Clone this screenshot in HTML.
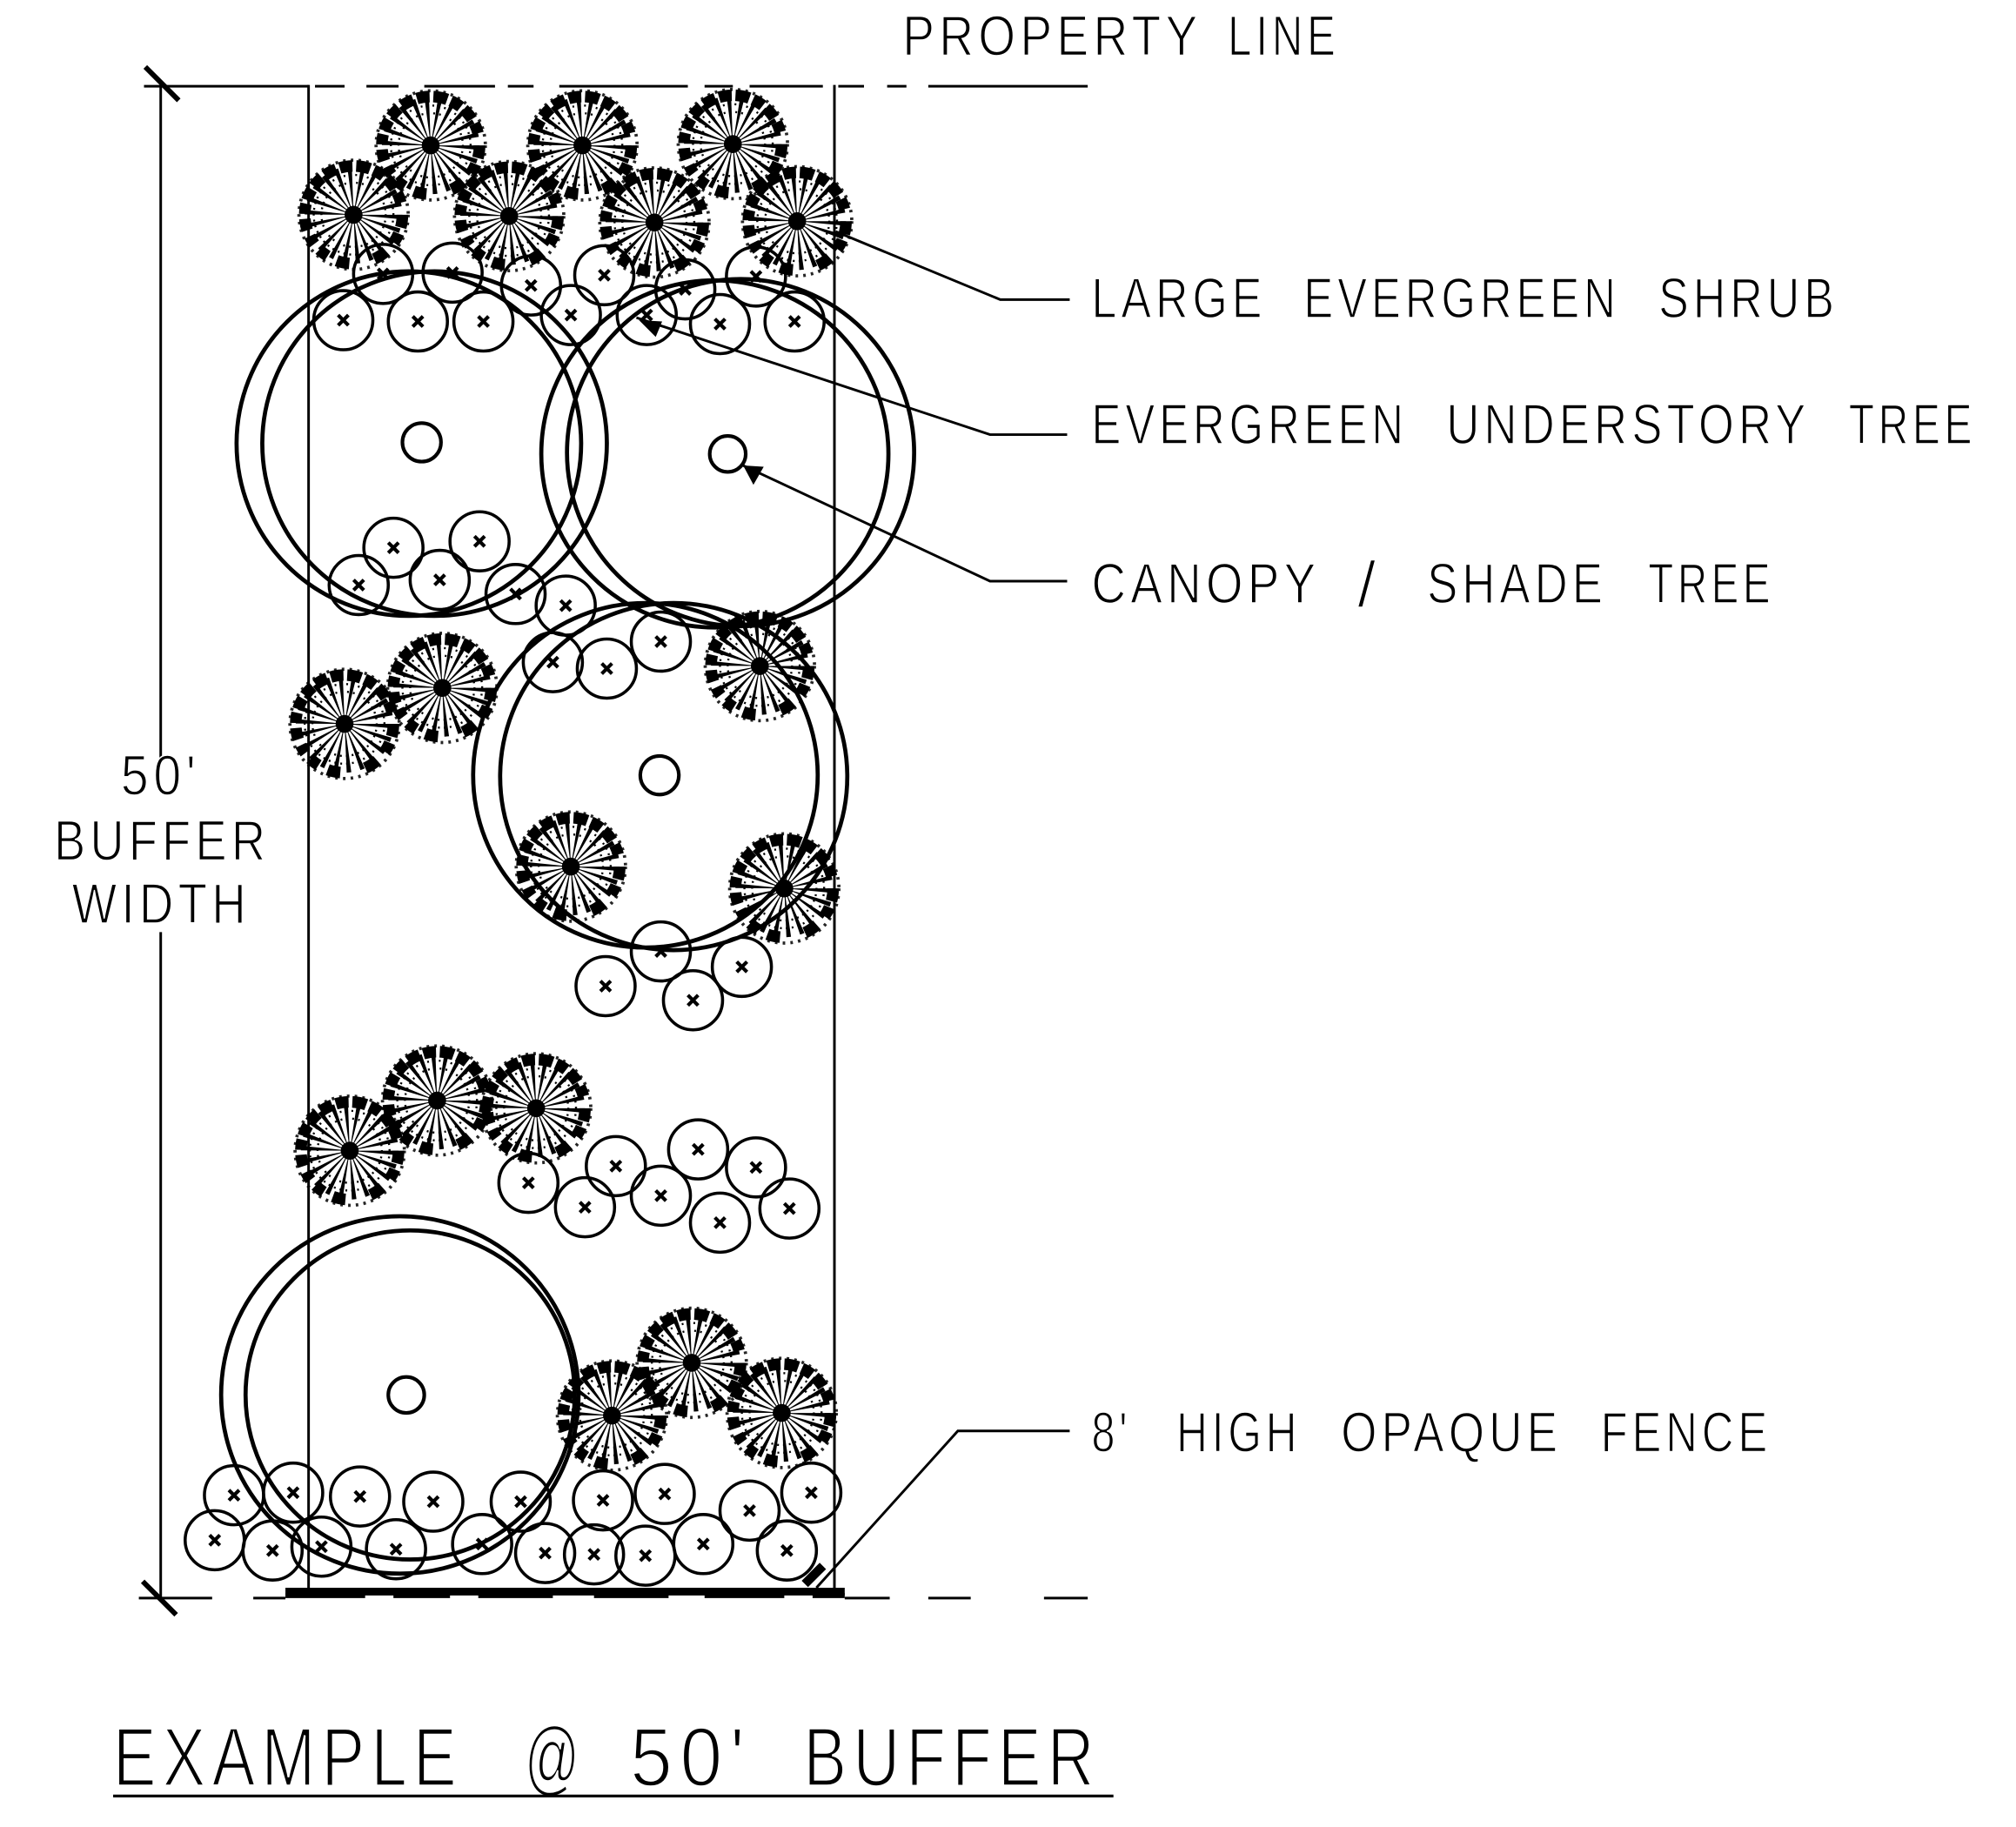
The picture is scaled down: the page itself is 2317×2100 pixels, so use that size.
<!DOCTYPE html>
<html><head><meta charset="utf-8"><title>Example @ 50' Buffer</title>
<style>html,body{margin:0;padding:0;background:#fff}svg{display:block}
text{font-family:"Liberation Sans",sans-serif;fill:#000;stroke:#fff;stroke-width:1;letter-spacing:.1em}</style></head>
<body>
<svg xmlns="http://www.w3.org/2000/svg" width="2317" height="2100" viewBox="0 0 1568 1421">
<defs>
<g id="s" fill="none" stroke="#000">
<circle r="19" stroke-width="38" stroke-dasharray="1.8 3.63"/>
<circle r="25" stroke-width="1.6" stroke-dasharray="1.4 3.2"/>
<circle r="31" stroke-width="1.6" stroke-dasharray="1.4 3.2"/>
<circle r="38" stroke-width="9" stroke-dasharray="10 5 8 9 11 20 10 8 8 6 7 5 9 4 8 3 9 3 9 3 10 3 10 3 11 3 9 3 10 4 8 9.8"/>
<circle r="42.5" stroke-width="2.5" stroke-dasharray="2 4" stroke-opacity=".85"/>
<circle r="7" fill="#000" stroke="none"/>
</g>
<g id="c" fill="none" stroke="#000">
<circle r="23" stroke-width="2.4"/>
<path d="M-4-4L4 4M4-4L-4 4" stroke-width="2.8"/>
</g>
</defs>
<rect width="1568" height="1421" fill="#fff"/>

<g fill="none" stroke="#000">
<path d="M240 66V1240M649 66V1240" stroke-width="2"/>
<path d="M125 66V590M125 725V1243" stroke-width="2"/>
<path d="M113 52L139 78M111 1230L137 1256" stroke-width="4"/>
<path d="M112 67H240" stroke-width="2"/>
<path d="M245 67H268M285 67H310M330 67H385M395 67H415M435 67H535M548 67H570M583 67H640M652 67H672M690 67H705M722 67H846" stroke-width="2"/>
<path d="M108 1243H165M197 1243H222M657 1243H692M722 1243H755M812 1243H846" stroke-width="2"/>
<path d="M222 1238H657" stroke-width="6"/>
<path d="M222 1241H284M306 1241H350M372 1241H430M462 1241H520M548 1241H610M632 1241H657" stroke-width="4"/>
<path d="M650 180L778 233H832M495 247L770 338H830M578 362L770 452H830M635 1235L745 1113H832" stroke-width="2"/>
<path d="M578 362L594 363L586 377Z" fill="#000" stroke="none"/>
<path d="M497 249L515 250L510 262Z" fill="#000" stroke="none"/>
<path d="M626 1232L640 1218" stroke-width="7"/>
<g stroke-width="3.2">
<circle cx="318" cy="345" r="134"/><circle cx="338" cy="345" r="134"/>
<circle cx="556" cy="353" r="135"/><circle cx="576" cy="352" r="135"/>
<circle cx="502" cy="603" r="134"/><circle cx="524" cy="604" r="135"/>
<circle cx="311" cy="1085" r="139"/><circle cx="319" cy="1085" r="128"/>
</g>
<g stroke-width="2.8">
<circle cx="328" cy="344" r="15"/><circle cx="566" cy="353" r="14"/>
<circle cx="513" cy="603" r="15"/><circle cx="316" cy="1085" r="14"/>
</g>
</g>

<use href="#s" x="335" y="113"/><use href="#s" x="453" y="113"/><use href="#s" x="570" y="112"/>
<use href="#s" x="275" y="167"/><use href="#s" x="396" y="168"/><use href="#s" x="509" y="173"/><use href="#s" x="620" y="172"/>
<use href="#s" x="268" y="563"/><use href="#s" x="344" y="535"/><use href="#s" x="591" y="518"/>
<use href="#s" x="444" y="674"/><use href="#s" x="610" y="691"/>
<use href="#s" x="272" y="895"/><use href="#s" x="340" y="856"/><use href="#s" x="417" y="862"/>
<use href="#s" x="476" y="1101"/><use href="#s" x="538" y="1060"/><use href="#s" x="608" y="1099"/>

<use href="#c" x="267" y="249"/><use href="#c" x="325" y="250"/><use href="#c" x="376" y="250"/>
<use href="#c" x="298" y="213"/><use href="#c" x="352" y="212"/><use href="#c" x="413" y="222"/>
<use href="#c" x="444" y="245"/><use href="#c" x="470" y="214"/><use href="#c" x="533" y="225"/>
<use href="#c" x="588" y="215"/><use href="#c" x="560" y="252"/><use href="#c" x="618" y="250"/><use href="#c" x="503" y="245"/>
<use href="#c" x="306" y="426"/><use href="#c" x="373" y="421"/><use href="#c" x="279" y="455"/>
<use href="#c" x="342" y="451"/><use href="#c" x="401" y="462"/><use href="#c" x="440" y="471"/>
<use href="#c" x="430" y="515"/><use href="#c" x="472" y="520"/><use href="#c" x="514" y="499"/>
<use href="#c" x="514" y="740"/><use href="#c" x="577" y="752"/><use href="#c" x="471" y="767"/><use href="#c" x="539" y="778"/>
<use href="#c" x="411" y="920"/><use href="#c" x="479" y="907"/><use href="#c" x="455" y="939"/><use href="#c" x="514" y="930"/>
<use href="#c" x="543" y="894"/><use href="#c" x="588" y="908"/><use href="#c" x="560" y="951"/><use href="#c" x="614" y="940"/>
<use href="#c" x="182" y="1163"/><use href="#c" x="228" y="1161"/><use href="#c" x="280" y="1164"/><use href="#c" x="337" y="1168"/>
<use href="#c" x="405" y="1168"/><use href="#c" x="469" y="1167"/><use href="#c" x="517" y="1162"/><use href="#c" x="583" y="1175"/><use href="#c" x="631" y="1161"/>
<use href="#c" x="167" y="1198"/><use href="#c" x="212" y="1206"/><use href="#c" x="250" y="1203"/><use href="#c" x="308" y="1205"/>
<use href="#c" x="375" y="1201"/><use href="#c" x="424" y="1208"/><use href="#c" x="462" y="1209"/><use href="#c" x="502" y="1210"/>
<use href="#c" x="547" y="1201"/><use href="#c" x="612" y="1206"/>

<g font-size="44">
<text x="702" y="43" textLength="233" lengthAdjust="spacingAndGlyphs">PROPERTY</text>
<text x="955" y="43" textLength="87" lengthAdjust="spacingAndGlyphs">LINE</text>
<text x="849" y="247" textLength="136" lengthAdjust="spacingAndGlyphs">LARGE</text>
<text x="1014" y="247" textLength="246" lengthAdjust="spacingAndGlyphs">EVERGREEN</text>
<text x="1290" y="247" textLength="140" lengthAdjust="spacingAndGlyphs">SHRUB</text>
<text x="849" y="345" textLength="246" lengthAdjust="spacingAndGlyphs">EVERGREEN</text>
<text x="1125" y="345" textLength="283" lengthAdjust="spacingAndGlyphs">UNDERSTORY</text>
<text x="1438" y="345" textLength="99" lengthAdjust="spacingAndGlyphs">TREE</text>
<text x="849" y="469" textLength="178" lengthAdjust="spacingAndGlyphs">CANOPY</text>
<text x="1056" y="472" font-size="50" style="letter-spacing:0">/</text>
<text x="1110" y="469" textLength="140" lengthAdjust="spacingAndGlyphs">SHADE</text>
<text x="1282" y="469" textLength="98" lengthAdjust="spacingAndGlyphs">TREE</text>
<text x="849" y="1129" textLength="31" lengthAdjust="spacingAndGlyphs">8'</text>
<text x="915" y="1129" textLength="97" lengthAdjust="spacingAndGlyphs">HIGH</text>
<text x="1043" y="1129" textLength="172" lengthAdjust="spacingAndGlyphs">OPAQUE</text>
<text x="1245" y="1129" textLength="133" lengthAdjust="spacingAndGlyphs">FENCE</text>
<text x="94" y="618" textLength="62" lengthAdjust="spacingAndGlyphs">50'</text>
<text x="42" y="669" textLength="168" lengthAdjust="spacingAndGlyphs">BUFFER</text>
<text x="56" y="718" textLength="139" lengthAdjust="spacingAndGlyphs">WIDTH</text>
</g>
<g font-size="65">
<text x="88" y="1389" textLength="272" lengthAdjust="spacingAndGlyphs" style="stroke-width:1.7">EXAMPLE</text>
<text x="408" y="1389" textLength="47" lengthAdjust="spacingAndGlyphs" style="stroke-width:1.7">@</text>
<text x="490" y="1389" textLength="95" lengthAdjust="spacingAndGlyphs" style="stroke-width:1.7">50'</text>
<text x="625" y="1389" textLength="231" lengthAdjust="spacingAndGlyphs" style="stroke-width:1.7">BUFFER</text>
</g>
<path d="M88 1397H866" stroke="#000" stroke-width="2.2" fill="none"/>
</svg>
</body></html>
